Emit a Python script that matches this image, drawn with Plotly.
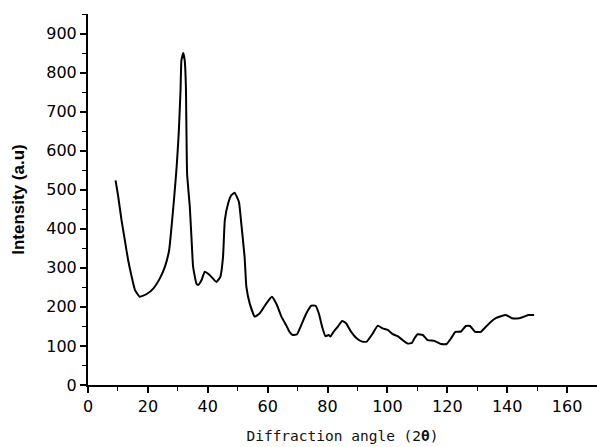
import plotly.graph_objects as go

angle = [9.2, 10.1, 11.2, 12.3, 13.4, 14.6, 15.7, 17.3, 19.6, 21.8, 24.0, 25.7, 27.1, 27.9,
         28.7, 29.6, 30.3, 30.9, 31.2, 31.8, 32.3, 32.7, 33.1, 34.0, 34.6, 35.1, 36.2, 36.8,
         37.9, 39.0, 40.7, 42.9, 44.2, 45.1, 45.7, 46.8, 47.9, 49.0, 50.4, 51.2, 52.3, 52.9,
         54.0, 55.7, 57.3, 59.6, 61.4, 63.1, 64.6, 66.2, 67.3, 68.4, 69.8, 71.2, 72.9, 74.6,
         76.0, 77.1, 78.2, 79.3, 80.4, 81.0, 82.0, 83.4, 84.9, 86.2, 87.9, 89.8, 91.6, 93.1,
         95.1, 96.8, 98.4, 100.1, 101.8, 103.4, 105.1, 106.8, 108.2, 109.0, 110.1, 111.8,
         113.4, 115.7, 117.9, 119.8, 121.2, 122.7, 124.6, 126.2, 127.6, 129.3, 131.2, 132.9,
         134.6, 136.2, 137.9, 139.6, 141.6, 144.0, 145.7, 147.1, 149.0]
intensity = [524, 482, 422, 371, 320, 277, 243, 226, 233, 247, 273, 303, 345, 405,
             473, 558, 644, 754, 831, 850, 831, 763, 541, 456, 371, 303, 260, 256,
             268, 290, 281, 264, 277, 328, 422, 465, 486, 492, 469, 413, 328, 251,
             209, 175, 183, 209, 226, 205, 175, 153, 136, 128, 130, 153, 183, 203,
             203, 183, 149, 125, 128, 124, 136, 149, 164, 158, 136, 119, 111, 111,
             132, 152, 145, 141, 130, 125, 115, 106, 108, 119, 130, 128,
             115, 113, 105, 105, 119, 136, 137, 151, 151, 136, 136, 149,
             162, 171, 176, 179, 171, 171, 175, 179, 179]

x_ticks = [0, 20, 40, 60, 80, 100, 120, 140, 160]
x_minor = [10, 30, 50, 70, 90, 110, 130, 150, 170]
y_ticks = [0, 100, 200, 300, 400, 500, 600, 700, 800, 900]
y_minor = [50, 150, 250, 350, 450, 550, 650, 750, 850, 950]

fig = go.Figure(go.Scatter(x=angle, y=intensity, mode="lines",
                           line=dict(color="black", width=2, shape="spline", smoothing=0.4),
                           showlegend=False))

tickfont = dict(family="DejaVu Sans", size=16, color="black")
fig.update_layout(
    width=597, height=447,
    margin=dict(l=88, r=0, t=14, b=62),
    plot_bgcolor="white", paper_bgcolor="white",
    xaxis=dict(range=[0, 170], tickvals=x_ticks,
               showgrid=False, zeroline=False, showline=True, linecolor="black", linewidth=2,
               ticks="outside", ticklen=6, tickwidth=1.5, tickcolor="black",
               minor=dict(tickvals=x_minor, ticks="outside",
                          ticklen=4, tickcolor="black", tickwidth=1),
               tickfont=tickfont,
               title=dict(text="Diffraction angle (2<b>θ</b>)", standoff=16,
                          font=dict(family="DejaVu Sans Mono", size=14.5, color="#111111"))),
    yaxis=dict(range=[0, 950], tickvals=y_ticks,
               showgrid=False, zeroline=False, showline=True, linecolor="black", linewidth=2,
               ticks="outside", ticklen=6, tickwidth=1.5, tickcolor="black",
               minor=dict(tickvals=y_minor, ticks="outside",
                          ticklen=4, tickcolor="black", tickwidth=1),
               tickfont=tickfont,
               title=dict(text="<b>Intensity (a.u)</b>", standoff=17,
                          font=dict(family="Liberation Sans, Arial", size=17, color="black"))),
)

fig.write_html("out.html")
